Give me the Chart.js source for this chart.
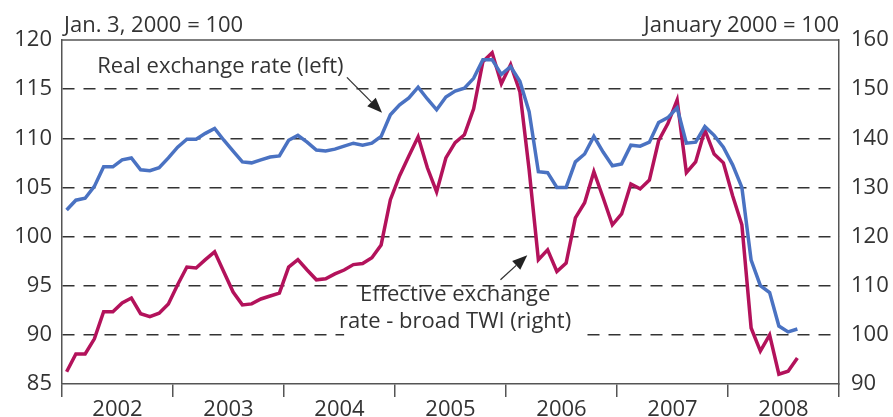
<!DOCTYPE html>
<html>
<head>
<meta charset="utf-8">
<script src="https://cdn.jsdelivr.net/npm/chart.js@4.4.0/dist/chart.umd.min.js"></script>
<style>
    html, body { margin: 0; padding: 0; background: #fff; }
</style>
</head>
<body>
<canvas id="fxGraph" width="893" height="417"></canvas>
<script>
(function () {
    "use strict";

    // monthly series, Jan 2002 .. Aug 2008
    const years = ["2002", "2003", "2004", "2005", "2006", "2007", "2008"];
    const realRate = [
        102.7, 103.7, 103.9, 105.1, 107.1, 107.1, 107.8, 108.0, 106.8, 106.7, 107.0, 108.0,
        109.1, 109.9, 109.9, 110.5, 111.0, 109.8, 108.7, 107.6, 107.5, 107.8, 108.1, 108.2,
        109.8, 110.3, 109.6, 108.8, 108.7, 108.9, 109.2, 109.5, 109.3, 109.5, 110.2, 112.4,
        113.4, 114.1, 115.2, 114.0, 112.9, 114.2, 114.8, 115.1, 116.1, 118.0, 118.0, 116.5,
        117.3, 115.8, 112.7, 106.6, 106.5, 105.0, 105.0, 107.6, 108.4, 110.2, 108.6, 107.2,
        107.4, 109.3, 109.2, 109.6, 111.6, 112.1, 113.1, 109.5, 109.6, 111.2, 110.3, 109.1,
        107.3, 105.0, 97.6, 95.0, 94.3, 90.9, 90.3, 90.6
    ];
    const twiRate = [
        92.5, 96.1, 96.1, 99.2, 104.7, 104.7, 106.5, 107.5, 104.3, 103.7, 104.4, 106.3,
        110.2, 113.8, 113.6, 115.3, 116.9, 112.8, 108.7, 106.1, 106.3, 107.3, 107.9, 108.5,
        113.8, 115.3, 113.2, 111.2, 111.4, 112.4, 113.2, 114.3, 114.5, 115.7, 118.3, 127.5,
        132.4, 136.4, 140.3, 134.0, 129.1, 136.0, 139.1, 140.7, 146.0, 155.6, 157.4, 151.1,
        155.0, 149.5, 133.6, 115.3, 117.3, 112.9, 114.6, 123.8, 126.9, 133.2, 127.9, 122.4,
        124.6, 130.7, 129.7, 131.5, 139.5, 143.0, 147.8, 133.0, 135.2, 141.7, 136.8, 135.0,
        128.3, 122.4, 101.4, 96.7, 100.0, 92.0, 92.6, 95.3
    ];
    const xTicks = [0, 6, 12, 18, 24, 30, 36, 42, 48, 54, 60, 66, 72, 78, 84];

    const textColor = "#333333";
    const frameColor = "#555555";
    const fontFamily = "'Open Sans', sans-serif";
    const tickFont = { family: fontFamily, size: 22 };

    /**
     * @description turns a monthly list into points placed mid-month
     * @param {*} values
     */
    function toPoints(values) {
        return values.map(function (v, i) {
            return { x: i + 0.5, y: v };
        });
    }

    function drawArrow(ctx, x1, y1, x2, y2) {
        let angle = Math.atan2(y2 - y1, x2 - x1);
        let headLen = 15;
        let headHalf = 6;
        ctx.save();
        ctx.strokeStyle = "#333";
        ctx.fillStyle = "#222";
        ctx.lineWidth = 1.3;
        ctx.beginPath();
        ctx.moveTo(x1, y1);
        ctx.lineTo(x2 - headLen * Math.cos(angle), y2 - headLen * Math.sin(angle));
        ctx.stroke();
        ctx.beginPath();
        ctx.moveTo(x2, y2);
        ctx.lineTo(
            x2 - headLen * Math.cos(angle) + headHalf * Math.sin(angle),
            y2 - headLen * Math.sin(angle) - headHalf * Math.cos(angle)
        );
        ctx.lineTo(
            x2 - headLen * Math.cos(angle) - headHalf * Math.sin(angle),
            y2 - headLen * Math.sin(angle) + headHalf * Math.cos(angle)
        );
        ctx.closePath();
        ctx.fill();
        ctx.restore();
    }

    const framePlugin = {
        id: "frame",
        beforeDatasetsDraw: function (chart) {
            const ctx = chart.ctx;
            const area = chart.chartArea;
            const x = chart.scales.x;
            const y = chart.scales.y;

            // top edge of the box
            ctx.save();
            ctx.strokeStyle = frameColor;
            ctx.lineWidth = 1.5;
            ctx.beginPath();
            ctx.moveTo(area.left, area.top);
            ctx.lineTo(area.right, area.top);
            ctx.stroke();

            // unit captions
            ctx.fillStyle = textColor;
            ctx.font = "22px " + fontFamily;
            ctx.textBaseline = "alphabetic";
            ctx.textAlign = "left";
            ctx.fillText("Jan. 3, 2000 = 100", area.left + 2, 32);
            ctx.textAlign = "right";
            ctx.fillText("January 2000 = 100", area.right, 32);

            // label for the TWI line sits on a white patch over the grid
            let cx = x.getPixelForValue(42.5);
            ctx.fillStyle = "#fff";
            ctx.fillRect(x.getPixelForValue(30.5), y.getPixelForValue(94.6), 235, 50);
            ctx.fillStyle = textColor;
            ctx.textAlign = "center";
            ctx.textBaseline = "middle";
            ctx.fillText("Effective exchange", cx, y.getPixelForValue(94.1));
            ctx.fillText("rate - broad TWI (right)", cx, y.getPixelForValue(91.3));

            ctx.textAlign = "left";
            ctx.fillText("Real exchange rate (left)", x.getPixelForValue(3.8), y.getPixelForValue(117.3));
            ctx.restore();

            drawArrow(ctx, x.getPixelForValue(30.8), y.getPixelForValue(116.2),
                x.getPixelForValue(34.6), y.getPixelForValue(112.6));
            drawArrow(ctx, x.getPixelForValue(47.4), y.getPixelForValue(95.6),
                x.getPixelForValue(50.3), y.getPixelForValue(98.1));
        },
    };

    const data = {
        datasets: [
            {
                label: "Real exchange rate (left)",
                data: toPoints(realRate),
                yAxisID: "y",
                borderColor: "#4a72c2",
                backgroundColor: "#4a72c2",
                borderWidth: 3.5,
                pointRadius: 0,
                tension: 0,
            },
            {
                label: "Effective exchange rate - broad TWI (right)",
                data: toPoints(twiRate),
                yAxisID: "y2",
                borderColor: "#b3125b",
                backgroundColor: "#b3125b",
                borderWidth: 3.5,
                pointRadius: 0,
                tension: 0,
            },
        ],
    };

    const config = {
        type: "line",
        data: data,
        plugins: [framePlugin],
        options: {
            responsive: false,
            animation: false,
            devicePixelRatio: 1,
            layout: { padding: { top: 40, left: 0, right: 0, bottom: 0 } },
            plugins: {
                legend: { display: false },
                title: { display: false },
                tooltip: { enabled: false },
            },
            scales: {
                x: {
                    type: "linear",
                    min: 0,
                    max: 84,
                    afterBuildTicks: function (scale) {
                        scale.ticks = xTicks.map(function (v) {
                            return { value: v };
                        });
                    },
                    afterFit: function (scale) {
                        scale.height = 33;
                    },
                    grid: {
                        drawOnChartArea: false,
                        tickLength: 13,
                        lineWidth: 1.5,
                        color: function (ctx) {
                            return ctx.tick && ctx.tick.value % 12 === 0 ? frameColor : "rgba(0,0,0,0)";
                        },
                    },
                    border: { display: true, color: frameColor, width: 1.5 },
                    ticks: {
                        autoSkip: false,
                        maxRotation: 0,
                        padding: 0,
                        color: textColor,
                        font: tickFont,
                        callback: function (v) {
                            return v % 12 === 6 ? years[(v - 6) / 12] : "";
                        },
                    },
                },
                y: {
                    position: "left",
                    min: 85,
                    max: 120,
                    afterFit: function (scale) {
                        scale.width = 62;
                    },
                    grid: {
                        tickLength: 0,
                        lineWidth: 1.5,
                        color: function (ctx) {
                            let v = ctx.tick ? ctx.tick.value : 0;
                            return v === 85 || v === 120 ? "rgba(0,0,0,0)" : "#333";
                        },
                    },
                    border: { display: true, color: frameColor, width: 1.5, dash: [12, 9] },
                    ticks: { stepSize: 5, padding: 10, color: textColor, font: tickFont },
                },
                y2: {
                    position: "right",
                    min: 90,
                    max: 160,
                    afterFit: function (scale) {
                        scale.width = 54;
                    },
                    grid: { drawOnChartArea: false, tickLength: 0 },
                    border: { display: true, color: frameColor, width: 1.5 },
                    ticks: { stepSize: 10, padding: 12, color: textColor, font: tickFont },
                },
            },
        },
    };

    new Chart(document.getElementById("fxGraph"), config);
})();
</script>
</body>
</html>
